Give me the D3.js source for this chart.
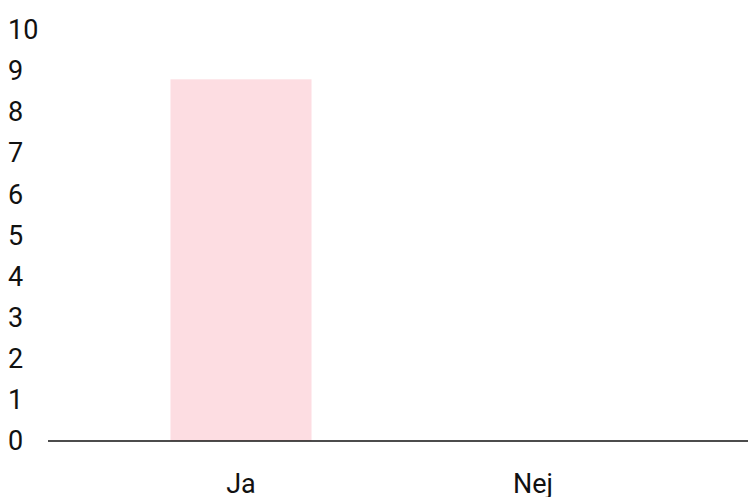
<!DOCTYPE html>
<html>
<head>
<meta charset="utf-8">
<script src="https://cdn.jsdelivr.net/npm/d3@7"></script>
<style>
  body { margin: 0; background: #fff; }
  svg { display: block; font-family: Roboto, sans-serif; }
</style>
</head>
<body>
<svg id="chart"></svg>
<script>
const categories = ["Ja", "Nej"]
const values = [8.8, 0]
const yTicks = [0, 1, 2, 3, 4, 5, 6, 7, 8, 9, 10]

const width = 748
const height = 497

const svg = d3.select("#chart").attr("width", width).attr("height", height)

// scales
const x = d3.scaleBand()
  .domain(categories)
  .range([95, 679])
  .paddingInner(0.517)
  .paddingOuter(0.2585)

const y = d3.scaleLinear()
  .domain([0, 10])
  .range([441, 30])

// bars
svg.append("g")
  .selectAll("rect")
  .data(values)
  .join("rect")
  .attr("x", (d, i) => x(categories[i]))
  .attr("y", d => y(d))
  .attr("width", x.bandwidth())
  .attr("height", d => y(0) - y(d))
  .attr("fill", "#fddde2")

// y axis labels
const yAxis = d3.axisLeft(y).tickValues(yTicks).tickSize(0).tickPadding(0)
const yg = svg.append("g").call(yAxis)
yg.select(".domain").remove()
yg.selectAll("text")
  .attr("x", 8)
  .attr("text-anchor", "start")
  .style("font-size", "27px")
  .style("font-family", "Roboto, sans-serif")
  .attr("fill", "#111")

// baseline
svg.append("line")
  .attr("x1", 48).attr("x2", width)
  .attr("y1", y(0)).attr("y2", y(0))
  .attr("stroke", "#111")
  .attr("stroke-width", 1.5)

// x axis labels
const xAxis = d3.axisBottom(x).tickSize(0).tickPadding(0)
const xg = svg.append("g").attr("transform", "translate(0,493)").call(xAxis)
xg.select(".domain").remove()
xg.selectAll("text")
  .attr("dy", 0)
  .attr("y", 0)
  .style("font-size", "27px")
  .style("font-family", "Roboto, sans-serif")
  .attr("fill", "#111")
</script>
</body>
</html>
